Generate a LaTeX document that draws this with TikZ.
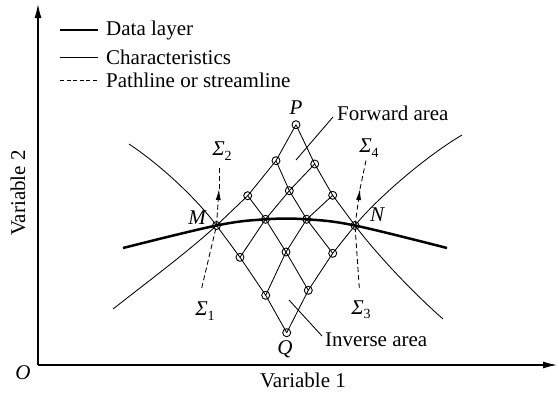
\documentclass[tikz,border=0pt]{standalone}
\usepackage{fontspec}
\setmainfont{Liberation Serif}
\usetikzlibrary{arrows.meta}
\newcommand{\sig}[1]{{\itshape Σ}\raisebox{-0.45ex}{\fontsize{14}{15}\selectfont #1}}
\begin{document}
\begin{tikzpicture}[x=1pt,y=-1pt,
  lat/.style={circle,draw,line width=0.9pt,minimum size=8pt,inner sep=0pt},
  thinln/.style={line width=0.85pt},
  datal/.style={line width=2.5pt},
  dashln/.style={line width=0.85pt,dash pattern=on 5pt off 3pt},
  axisln/.style={line width=1.2pt,-{Latex[length=14pt,width=7pt]}},
  txt/.style={inner sep=0pt,font=\fontsize{21}{25}\selectfont},
  lbl/.style={inner sep=0pt,font=\fontsize{21}{25}\selectfont\itshape},
  tip/.style={-{Latex[length=11pt,width=5pt]}}]
\useasboundingbox (0,0) rectangle (557,392);
% axes
\coordinate (O) at (38,365);
\coordinate (Ytop) at (38,4);
\coordinate (Xend) at (557,365);
\draw[axisln] (O) -- (Ytop);
\draw[axisln] (O) -- (Xend);
\node[lbl] (Olbl) at (23,373) {O};
\node[txt] (v1) at (303,380) {Variable 1};
\node[txt,rotate=90] (v2) at (18,193) {Variable 2};
% legend
\coordinate (l1a) at (60,30); \coordinate (l1b) at (98,30);
\coordinate (l2a) at (60,57); \coordinate (l2b) at (98,57);
\coordinate (l3a) at (60,80); \coordinate (l3b) at (98,80);
\draw[datal,line width=2.2pt] (l1a) -- (l1b);
\draw[thinln] (l2a) -- (l2b);
\draw[dashln,dash pattern=on 4pt off 2.5pt] (l3a) -- (l3b);
\node[txt,anchor=west] (t1) at (106,30) {Data layer};
\node[txt,anchor=west] (t2) at (106,57) {Characteristics};
\node[txt,anchor=west] (t3) at (106,80) {Pathline or streamline};
% lattice points
\node[lat] (M) at (216.5,225.5) {};
\node[lat] (D1) at (265.5,219.3) {};
\node[lat] (D2) at (306.7,219.3) {};
\node[lat] (N) at (355,225.5) {};
\node[lat] (U1a) at (247.7,195.7) {};
\node[lat] (U1b) at (289.3,190.7) {};
\node[lat] (U1c) at (332.7,195.3) {};
\node[lat] (U2a) at (276,160.7) {};
\node[lat] (U2b) at (314.7,164) {};
\node[lat] (P) at (296,124.7) {};
\node[lat] (L1a) at (240,257.3) {};
\node[lat] (L1b) at (286,252) {};
\node[lat] (L1c) at (332.7,253.3) {};
\node[lat] (L2a) at (265.7,295.3) {};
\node[lat] (L2b) at (308.3,290.3) {};
\node[lat] (Q) at (286.7,332.7) {};
% lattice lines
\draw[thinln] (M.center) -- (U1a.center) -- (U2a.center) -- (P.center);
\draw[thinln] (D1.center) -- (U1b.center) -- (U2b.center);
\draw[thinln] (D2.center) -- (U1c.center);
\draw[thinln] (N.center) -- (U1c.center) -- (U2b.center) -- (P.center);
\draw[thinln] (D2.center) -- (U1b.center) -- (U2a.center);
\draw[thinln] (D1.center) -- (U1a.center);
\draw[thinln] (M.center) -- (L1a.center) -- (L2a.center) -- (Q.center);
\draw[thinln] (D1.center) -- (L1b.center) -- (L2b.center);
\draw[thinln] (D2.center) -- (L1c.center);
\draw[thinln] (N.center) -- (L1c.center) -- (L2b.center) -- (Q.center);
\draw[thinln] (D2.center) -- (L1b.center) -- (L2a.center);
\draw[thinln] (D1.center) -- (L1a.center);
% outer characteristics
\coordinate (cUL) at (129,144);
\coordinate (cLL) at (113,309);
\coordinate (cUR) at (462,135);
\coordinate (cLR) at (443,319);
\draw[thinln] (cUL) .. controls (165,168) and (200,203) .. (M.center);
\draw[thinln] (M.center) .. controls (190,250) and (150,280) .. (cLL);
\draw[thinln] (N.center) .. controls (372,204) and (420,160) .. (cUR);
\draw[thinln] (N.center) .. controls (375,252) and (410,290) .. (cLR);
% data layer
\coordinate (dL) at (123,248);
\coordinate (dR) at (447,248);
\draw[datal] plot[smooth,tension=0.6] coordinates {(dL) (M.center) (D1.center) (D2.center) (N.center) (dR)};
% pathlines
\coordinate (s1) at (201.7,288);
\coordinate (a2) at (219,189);
\coordinate (s2) at (219,167);
\coordinate (s3) at (359.3,288);
\coordinate (a4) at (360,189);
\coordinate (s4) at (366.5,158);
\draw[dashln] (s1) -- (M.center);
\draw[dashln,tip] (M.center) -- (a2);
\draw[dashln] (a2) -- (s2);
\draw[dashln] (s3) -- (N.center);
\draw[dashln,tip] (N.center) -- (a4);
\draw[dashln] (a4) -- (s4);
\node[txt] (S1) at (205,311) {\sig{1}};
\node[txt] (S2) at (222,151) {\sig{2}};
\node[txt] (S3) at (361,310) {\sig{3}};
\node[txt] (S4) at (369,148) {\sig{4}};
% point labels
\node[lbl] (Plbl) at (296,108) {P};
\node[lbl] (Mlbl) at (197,218) {M};
\node[lbl] (Nlbl) at (377,215) {N};
\node[lbl] (Qlbl) at (285,349) {Q};
% area labels
\coordinate (fa1) at (296,160);
\coordinate (fa2) at (333,117);
\draw[thinln] (fa1) -- (fa2);
\node[txt,anchor=west] (fwd) at (337,113) {Forward area};
\coordinate (ia1) at (289,300);
\coordinate (ia2) at (322,336);
\draw[thinln] (ia1) -- (ia2);
\node[txt,anchor=west] (inv) at (325,340) {Inverse area};
\end{tikzpicture}
\end{document}
